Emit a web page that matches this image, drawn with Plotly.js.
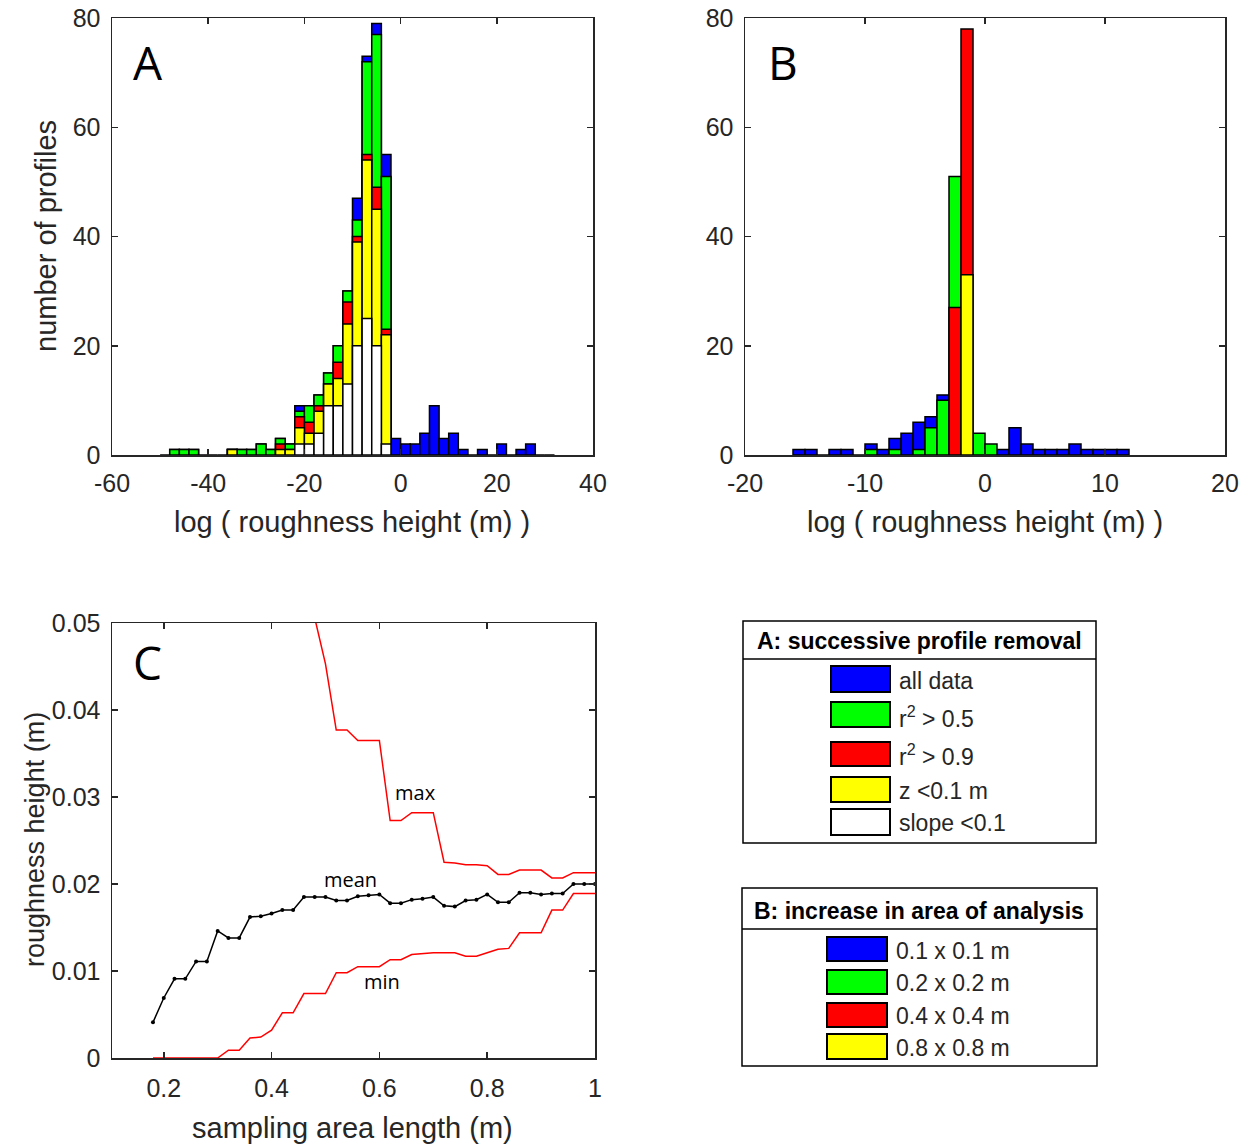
<!DOCTYPE html>
<html><head><meta charset="utf-8">
<script src="https://cdn.plot.ly/plotly-3.0.1.min.js"></script>
<style>html,body{margin:0;padding:0;background:#fff}#chart{width:1258px;height:1145px}</style>
</head><body><div id="chart"></div>
<script>
// ---------- Panel A: successive profile removal (bin centres, width 2) ----------
const binsA = [-49,-47,-45,-43,-41,-39,-37,-35,-33,-31,-29,-27,-25,-23,-21,-19,-17,-15,-13,-11,-9,-7,-5,-3,-1,1,3,5,7,9,11,13,15,17,19,21,23,25,27,29,31];
const allDataA = [0,1,1,1,0,0,0,1,1,1,2,1,3,2,9,9,11,15,20,30,47,73,79,55,3,2,2,4,9,3,4,1,0,1,0,2,0,1,2,0,0];
const r2gt05A  = [0,1,1,1,0,0,0,1,1,1,2,1,3,2,8,9,11,15,20,30,43,72,77,51,0,0,0,0,0,0,0,0,0,0,0,0,0,0,0,0,0];
const r2gt09A  = [0,0,0,0,0,0,0,1,0,0,0,0,2,1,7,6,9,13,17,28,40,55,49,23,0,0,0,0,0,0,0,0,0,0,0,0,0,0,0,0,0];
const zlt01A   = [0,0,0,0,0,0,0,1,0,0,0,0,1,1,5,4,8,13,14,24,39,54,45,22,0,0,0,0,0,0,0,0,0,0,0,0,0,0,0,0,0];
const slopeA   = [0,0,0,0,0,0,0,0,0,0,0,0,0,0,2,2,4,9,9,13,20,25,20,2,0,0,0,0,0,0,0,0,0,0,0,0,0,0,0,0,0];

// ---------- Panel B: increase in area of analysis (bin centres, width 1) ----------
const binsB = [-15.5,-14.5,-13.5,-12.5,-11.5,-10.5,-9.5,-8.5,-7.5,-6.5,-5.5,-4.5,-3.5,-2.5,-1.5,-0.5,0.5,1.5,2.5,3.5,4.5,5.5,6.5,7.5,8.5,9.5,10.5,11.5];
const area01B = [1,1,0,1,1,0,2,1,3,4,6,7,11,0,0,0,0,1,5,2,1,1,1,2,1,1,1,1];
const area02B = [0,0,0,0,0,0,1,0,1,0,1,5,10,51,0,4,2,0,0,0,0,0,0,0,0,0,0,0];
const area04B = [0,0,0,0,0,0,0,0,0,0,0,0,0,27,78,0,0,0,0,0,0,0,0,0,0,0,0,0];
const area08B = [0,0,0,0,0,0,0,0,0,0,0,0,0,0,33,0,0,0,0,0,0,0,0,0,0,0,0,0];

// ---------- Panel C: roughness height vs sampling area length ----------
const lengthC = [0.18,0.20,0.22,0.24,0.26,0.28,0.30,0.32,0.34,0.36,0.38,0.40,0.42,0.44,0.46,0.48,0.50,0.52,0.54,0.56,0.58,0.60,0.62,0.64,0.66,0.68,0.70,0.72,0.74,0.76,0.78,0.80,0.82,0.84,0.86,0.88,0.90,0.92,0.94,0.96,0.98,1.00];
const meanC = [0.0041,0.0069,0.0091,0.0091,0.0111,0.0111,0.0146,0.0138,0.0138,0.0162,0.0163,0.0166,0.0170,0.0170,0.0185,0.0185,0.0185,0.0181,0.0181,0.0186,0.0187,0.0188,0.0178,0.0178,0.0182,0.0183,0.0185,0.0175,0.0174,0.0181,0.0182,0.0188,0.0179,0.0179,0.0190,0.0190,0.0188,0.0189,0.0189,0.0200,0.0200,0.0200];
const minC = [0,0,0,0,0,0,0,0.0009,0.0009,0.0023,0.0024,0.0032,0.0052,0.0052,0.0074,0.0074,0.0074,0.0098,0.0098,0.0105,0.0105,0.0105,0.0113,0.0113,0.0119,0.0120,0.0121,0.0121,0.0121,0.0117,0.0117,0.0121,0.0125,0.0126,0.0144,0.0144,0.0144,0.0170,0.0170,0.0189,0.0189,0.0189];
const maxC = [null,null,null,null,null,null,null,null,null,null,null,null,null,null,null,0.0506,0.0453,0.0377,0.0377,0.0365,0.0365,0.0365,0.0273,0.0273,0.0282,0.0282,0.0282,0.0225,0.0224,0.0222,0.0222,0.0221,0.0211,0.0211,0.0216,0.0216,0.0216,0.0207,0.0207,0.0213,0.0213,0.0213];

// ---------- tick labels ----------
const ticksA = [-60,-40,-20,0,20,40];
const tickTextA = ['-60','-40','-20','0','20','40'];
const ticksB = [-20,-10,0,10,20];
const tickTextB = ['-20','-10','0','10','20'];
const ticksCount = [0,20,40,60,80];
const tickTextCount = ['0','20','40','60','80'];
const ticksCx = [0.2,0.4,0.6,0.8,1];
const tickTextCx = ['0.2','0.4','0.6','0.8','1'];
const ticksCy = [0,0.01,0.02,0.03,0.04,0.05];
const tickTextCy = ['0','0.01','0.02','0.03','0.04','0.05'];

// ---------- legend labels ----------
const legendATitle = 'A: successive profile removal';
const legendALabels = ['all data','r<sup>2</sup> > 0.5','r<sup>2</sup> > 0.9','z <0.1 m','slope <0.1'];
const legendBTitle = 'B: increase in area of analysis';
const legendBLabels = ['0.1 x 0.1 m','0.2 x 0.2 m','0.4 x 0.4 m','0.8 x 0.8 m'];
const colorsA = ['#0000ff','#00ff00','#ff0000','#ffff00','#ffffff'];
const colorsB = ['#0000ff','#00ff00','#ff0000','#ffff00'];

const W = 1258, H = 1145;
const px = v => v / W;
const py = v => 1 - v / H;
const FONT = 'Liberation Sans, Arial, Helvetica, sans-serif';
const TXT = '#262626';

function barTrace(xs, ys, color, width, xa, ya, keepZeros) {
  const X = [], Y = [];
  xs.forEach((x, i) => { if (keepZeros || ys[i] > 0) { X.push(x); Y.push(ys[i]); } });
  return {type:'bar', x:X, y:Y, width:width, xaxis:xa, yaxis:ya,
    marker:{color:color, line:{color:'#000', width:1.5}}, showlegend:false, hoverinfo:'skip'};
}

const traces = [];
[allDataA, r2gt05A, r2gt09A, zlt01A, slopeA].forEach((s, i) =>
  traces.push(barTrace(binsA, s, colorsA[i], 2, 'x', 'y', i === 0)));
[area01B, area02B, area04B, area08B].forEach((s, i) =>
  traces.push(barTrace(binsB, s, colorsB[i], 1, 'x2', 'y2', i === 0)));

traces.push({type:'scatter', mode:'lines', x:lengthC, y:maxC, xaxis:'x3', yaxis:'y3',
  line:{color:'#ff0000', width:1.5}, showlegend:false, hoverinfo:'skip'});
traces.push({type:'scatter', mode:'lines', x:lengthC, y:minC, xaxis:'x3', yaxis:'y3',
  line:{color:'#ff0000', width:1.5}, showlegend:false, hoverinfo:'skip'});
traces.push({type:'scatter', mode:'lines+markers', x:lengthC, y:meanC, xaxis:'x3', yaxis:'y3',
  line:{color:'#000', width:1.5}, marker:{color:'#000', size:4}, showlegend:false, hoverinfo:'skip'});

function ax(extra) {
  return Object.assign({showline:true, mirror:'ticks', linecolor:TXT, linewidth:1.5,
    ticks:'inside', ticklen:6, tickwidth:1.5, tickcolor:TXT, showgrid:false, zeroline:false,
    tickfont:{family:FONT, size:25, color:TXT}, tickmode:'array', fixedrange:true}, extra);
}

const shapes = [];
const annotations = [];
function rect(x0, y0, x1, y1, fill, lw) {
  shapes.push({type:'rect', xref:'paper', yref:'paper', x0:px(x0), x1:px(x1), y0:py(y1), y1:py(y0),
    line:{color:'#000', width:lw}, fillcolor:fill, layer:'above'});
}
function line(x0, y0, x1, y1) {
  shapes.push({type:'line', xref:'paper', yref:'paper', x0:px(x0), x1:px(x1), y0:py(y0), y1:py(y1),
    line:{color:'#000', width:1.5}});
}
function text(t, x, y, opts) {
  annotations.push(Object.assign({text:t, xref:'paper', yref:'paper', x:px(x), y:py(y),
    showarrow:false, xanchor:'center', yanchor:'middle',
    font:{family:FONT, size:25, color:TXT}}, opts || {}));
}

// Legend A box
rect(743, 621, 1096, 843, 'rgba(0,0,0,0)', 1.5);
line(743, 659, 1096, 659);
text('<b>' + legendATitle + '</b>', 919, 641, {font:{family:FONT, size:23, color:'#000'}});
const swA = [[666,692],[702,727],[742,766],[777,802],[809,835]];
const txA = [681, 717, 755, 791, 823];
legendALabels.forEach((lab, i) => {
  rect(831, swA[i][0], 890, swA[i][1], colorsA[i], 2);
  text(lab, 897, txA[i], {xanchor:'left', font:{family:FONT, size:23, color:TXT}});
});

// Legend B box
rect(742, 888, 1097, 1066, 'rgba(0,0,0,0)', 1.5);
line(742, 929, 1097, 929);
text('<b>' + legendBTitle + '</b>', 919, 911, {font:{family:FONT, size:23, color:'#000'}});
const swB = [[937,961],[970,994],[1003,1027],[1034,1059]];
const txB = [951, 983, 1016, 1048];
legendBLabels.forEach((lab, i) => {
  rect(827, swB[i][0], 887, swB[i][1], colorsB[i], 2);
  text(lab, 894, txB[i], {xanchor:'left', font:{family:FONT, size:23, color:TXT}});
});

// Panel letters
text('A', 148, 62, {font:{family:'Open Sans, sans-serif', size:46, color:'#000'}});
text('B', 783, 62, {font:{family:'Open Sans, sans-serif', size:46, color:'#000'}});
text('C', 147, 662, {font:{family:'Open Sans, sans-serif', size:46, color:'#000'}});

// Axis titles
text('log ( roughness height (m) )', 352, 522, {font:{family:FONT, size:29, color:TXT}});
text('log ( roughness height (m) )', 985, 522, {font:{family:FONT, size:29, color:TXT}});
text('number of profiles', 46, 236, {textangle:-90, font:{family:FONT, size:29, color:TXT}});
text('roughness height (m)', 35, 840, {textangle:-90, font:{family:FONT, size:27, color:TXT}});
text('sampling area length (m)', 352, 1128, {font:{family:FONT, size:29, color:TXT}});

// Line labels in panel C (data coordinates)
const labelFont = {family:'Open Sans, sans-serif', size:20, color:'#000'};
annotations.push({text:'max', x:0.667, y:0.0305, xref:'x3', yref:'y3', showarrow:false, font:labelFont});
annotations.push({text:'mean', x:0.547, y:0.0205, xref:'x3', yref:'y3', showarrow:false, font:labelFont});
annotations.push({text:'min', x:0.604, y:0.0088, xref:'x3', yref:'y3', showarrow:false, font:labelFont});

const layout = {
  width:W, height:H, margin:{l:0, r:0, t:0, b:0}, paper_bgcolor:'#fff', plot_bgcolor:'#fff',
  barmode:'overlay', bargap:0, hovermode:false, showlegend:false,
  xaxis: ax({domain:[px(112), px(593)], range:[-60,40], tickvals:ticksA, ticktext:tickTextA, anchor:'y', ticklabelstandoff:5}),
  yaxis: ax({domain:[py(455), py(18)], range:[0,80], tickvals:ticksCount, ticktext:tickTextCount, anchor:'x', ticklabelstandoff:5}),
  xaxis2: ax({domain:[px(745), px(1225)], range:[-20,20], tickvals:ticksB, ticktext:tickTextB, anchor:'y2', ticklabelstandoff:5}),
  yaxis2: ax({domain:[py(455), py(18)], range:[0,80], tickvals:ticksCount, ticktext:tickTextCount, anchor:'x2', ticklabelstandoff:5}),
  xaxis3: ax({domain:[px(112), px(595)], range:[0.104,1.0], tickvals:ticksCx, ticktext:tickTextCx, anchor:'y3', ticklabelstandoff:7}),
  yaxis3: ax({domain:[py(1058), py(623)], range:[0,0.05], tickvals:ticksCy, ticktext:tickTextCy, anchor:'x3', ticklabelstandoff:5}),
  shapes:shapes, annotations:annotations
};

Plotly.newPlot('chart', traces, layout, {staticPlot:true, displayModeBar:false});
</script>
</body></html>
